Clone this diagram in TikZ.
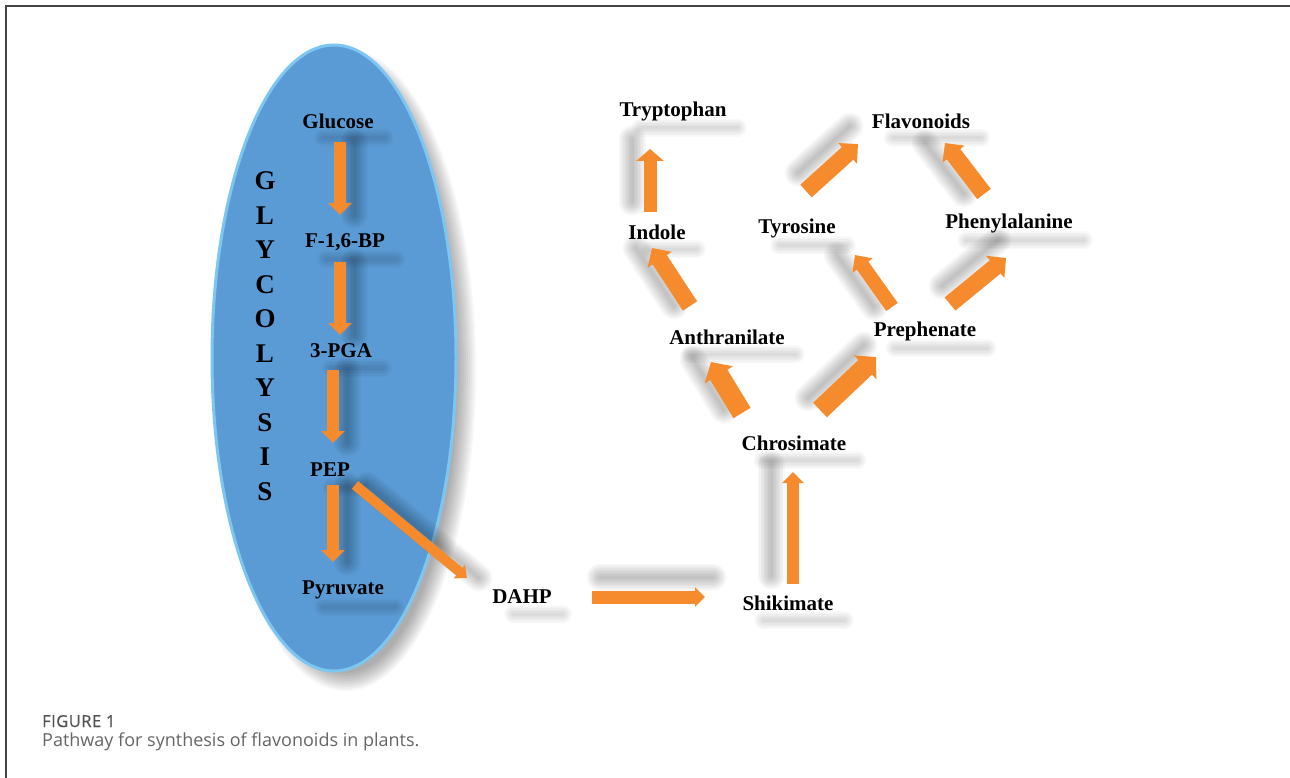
\documentclass[tikz,border=0pt]{standalone}
\usepackage{fontspec}
\setmainfont{Liberation Serif}
\newfontfamily\capfont{Open Sans}
\newfontfamily\capfontb[FakeBold=0.6,LetterSpace=3]{Open Sans}
\usetikzlibrary{arrows.meta,shapes.geometric}
\definecolor{ellblue}{HTML}{5B9BD5}
\definecolor{ellrim}{HTML}{7CC6F2}
\definecolor{arrorange}{HTML}{F68B2E}
\definecolor{capgray}{HTML}{666666}
\definecolor{framegray}{HTML}{444444}
\begin{document}
\begin{tikzpicture}[x=1pt,y=-1pt,
  lbl/.style={font=\fontsize{21}{24}\selectfont\bfseries, inner xsep=1pt, inner ysep=0pt},
  blockarrow/.style n args={3}{draw=arrorange, line width=#1, -{Triangle[width=#2,length=#3]}},
  shadowpass/.style={draw=black, draw opacity=0.028, line cap=round},
  textshadow/.style={draw=black, draw opacity=0.022, line cap=round},
]
\useasboundingbox (0,0) rectangle (1290,778);
\fill[white] (0,0) rectangle (1290,778);
\draw[framegray, line width=1.2pt] (6,778) -- (6,6) -- (1290,6);

% soft shadow of the ellipse
\foreach \i in {0,...,9}
  {\fill[black, fill opacity=0.035] (346,370) ellipse [x radius=112+2*\i, y radius=303+2*\i];}

% glycolysis ellipse
\node[ellipse, minimum width=244pt, minimum height=626pt, inner sep=0pt,
  fill=ellblue, draw=ellrim, line width=3pt] (glyc) at (334,358) {};

\node[font=\fontsize{27}{34.5}\selectfont\bfseries, align=center, inner sep=0pt] (gly) at (265,336)
  {G\\L\\Y\\C\\O\\L\\Y\\S\\I\\S};

% labels
\node[lbl] (glucose) at (338,121) {Glucose};
\node[lbl] (f16bp) at (345,242) {F-1,6-BP};
\node[lbl] (pga) at (341,351) {3-PGA};
\node[lbl] (pep) at (330,470) {PEP};
\node[lbl] (pyruvate) at (343,590) {Pyruvate};
\node[lbl] (dahp) at (522,597) {DAHP};
\node[lbl] (shikimate) at (788,603) {Shikimate};
\node[lbl] (chrosimate) at (794,443) {Chrosimate};
\node[lbl] (anthranilate) at (727,337) {Anthranilate};
\node[lbl] (prephenate) at (925,331) {Prephenate};
\node[lbl] (indole) at (657,232) {Indole};
\node[lbl] (tyrosine) at (797,228) {Tyrosine};
\node[lbl] (phenylalanine) at (1009,223) {Phenylalanine};
\node[lbl] (tryptophan) at (673,111) {Tryptophan};
\node[lbl] (flavonoids) at (921,121) {Flavonoids};

% soft shadows under the labels
\foreach \n in {glucose,f16bp,pga,pep,pyruvate,dahp,shikimate,chrosimate,anthranilate,
  prephenate,indole,tyrosine,phenylalanine,tryptophan,flavonoids}
  {\foreach \w in {3,6,9,12,15,18}
    {\draw[textshadow, line width=\w pt, transform canvas={xshift=14pt, yshift=-17pt}]
      ([xshift=8pt]\n.west) -- ([xshift=-4pt]\n.east);}}

% arrow end points
\coordinate (a1-s) at (340,142);  \coordinate (a1-e) at (340,215);
\coordinate (a2-s) at (340,262);  \coordinate (a2-e) at (340,335);
\coordinate (a3-s) at (333,370);  \coordinate (a3-e) at (333,443);
\coordinate (a4-s) at (333,485);  \coordinate (a4-e) at (333,562);
\coordinate (a5-s) at (355,485);  \coordinate (a5-e) at (467,578);
\coordinate (a6-s) at (592,597);  \coordinate (a6-e) at (705,597);
\coordinate (a7-s) at (793,584);  \coordinate (a7-e) at (793,472);
\coordinate (a8-s) at (742,413);  \coordinate (a8-e) at (711,362);
\coordinate (a9-s) at (820,410);  \coordinate (a9-e) at (876,357);
\coordinate (a10-s) at (690,306); \coordinate (a10-e) at (652,248);
\coordinate (a11-s) at (650,212); \coordinate (a11-e) at (650,149);
\coordinate (a12-s) at (806,191); \coordinate (a12-e) at (858,144);
\coordinate (a13-s) at (984,194); \coordinate (a13-e) at (945,143);
\coordinate (a14-s) at (892,307); \coordinate (a14-e) at (855,255);
\coordinate (a15-s) at (950,304); \coordinate (a15-e) at (1006,258);

% soft shadows of the arrows
\foreach \a/\dx/\dy in {a1/14/0, a2/14/0, a3/14/0, a4/14/0, a5/12/0, a6/8/20, a7/-22/8,
  a8/-18/3, a9/-12/12, a10/-16/0, a11/-18/10, a12/-8/18, a13/-20/0, a14/-18/0, a15/-8/18}
  {\foreach \w in {3,6,9,12,15,18,21,24,27}
    {\draw[shadowpass, line width=\w pt, transform canvas={xshift=\dx pt, yshift=\dy pt}] (\a-s) -- (\a-e);}}

% block arrows
\draw[blockarrow={12pt}{23pt}{12pt}] (a1-s) -- (a1-e);
\draw[blockarrow={12pt}{23pt}{12pt}] (a2-s) -- (a2-e);
\draw[blockarrow={12pt}{23pt}{12pt}] (a3-s) -- (a3-e);
\draw[blockarrow={12pt}{23pt}{12pt}] (a4-s) -- (a4-e);
\draw[blockarrow={10pt}{17pt}{10pt}] (a5-s) -- (a5-e);
\draw[blockarrow={13pt}{19pt}{10pt}] (a6-s) -- (a6-e);
\draw[blockarrow={12pt}{21pt}{11pt}] (a7-s) -- (a7-e);
\draw[blockarrow={20pt}{32pt}{15pt}] (a8-s) -- (a8-e);
\draw[blockarrow={20pt}{32pt}{15pt}] (a9-s) -- (a9-e);
\draw[blockarrow={17pt}{28pt}{14pt}] (a10-s) -- (a10-e);
\draw[blockarrow={13pt}{27pt}{12pt}] (a11-s) -- (a11-e);
\draw[blockarrow={17pt}{27pt}{14pt}] (a12-s) -- (a12-e);
\draw[blockarrow={17pt}{27pt}{14pt}] (a13-s) -- (a13-e);
\draw[blockarrow={14pt}{24pt}{13pt}] (a14-s) -- (a14-e);
\draw[blockarrow={17pt}{28pt}{14pt}] (a15-s) -- (a15-e);

% caption
\node[anchor=base west, font=\capfontb\fontsize{16.5}{18}\selectfont, text=capgray!80!black, inner sep=0pt]
  (figlabel) at (42,727) {FIGURE 1};
\node[anchor=base west, font=\capfont\fontsize{18}{22}\selectfont, text=capgray, inner sep=0pt]
  (caption) at (42,746) {Pathway for synthesis of flavonoids in plants.};
\end{tikzpicture}
\end{document}
